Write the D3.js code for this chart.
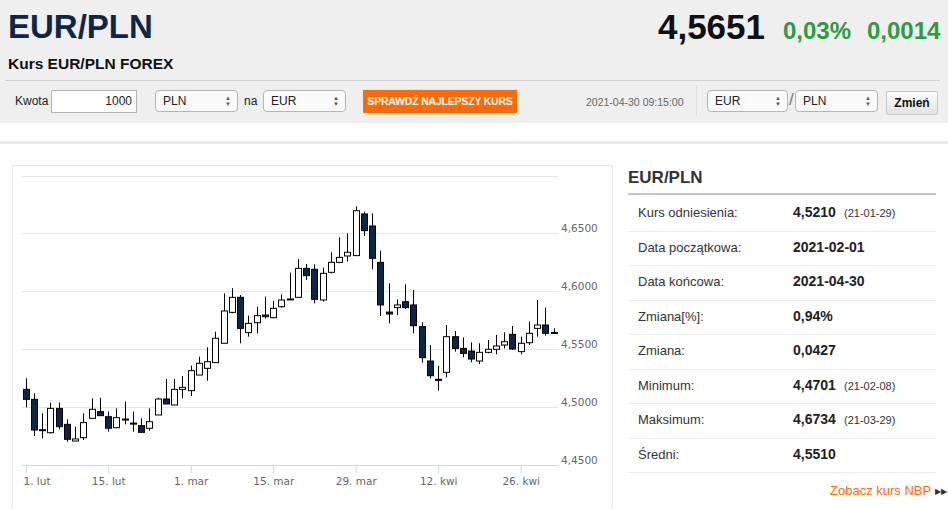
<!DOCTYPE html>
<html>
<head>
<meta charset="utf-8">
<script src="https://cdn.jsdelivr.net/npm/d3@7"></script>
<style>
  body { margin: 0; width: 948px; height: 509px; overflow: hidden; background: #fff; font-family: "Liberation Sans", Arial, sans-serif; position: relative; }
  .abs { position: absolute; white-space: nowrap; }
  .head { position: absolute; left: 0; top: 0; width: 948px; height: 123px; background: #efefef; }
  .sel { position: absolute; height: 20px; border: 1px solid #b5b5b5; border-radius: 4px; background: #fafafa; font-size: 12px; line-height: 20px; padding-left: 7px; box-sizing: content-box; color: #222; }
  .sel .arr { position: absolute; right: 6px; top: 4px; font-size: 6px; line-height: 6px; color: #555; }
  #chart { position: absolute; left: 0; top: 0; }
  .row-l { position: absolute; left: 638px; font-size: 13px; color: #333; }
  .row-v { position: absolute; left: 793px; font-size: 14px; font-weight: bold; color: #222; }
  .row-d { position: absolute; left: 844px; font-size: 11px; color: #333; }
  .row-line { position: absolute; left: 628px; width: 308px; height: 1px; background: #ececec; }
</style>
</head>
<body>
<div class="head"></div>
<div class="abs" style="left:8px;top:8px;font-size:33px;font-weight:bold;color:#0f2747;">EUR/PLN</div>
<div class="abs" style="left:8px;top:55px;font-size:15.5px;font-weight:bold;color:#111;">Kurs EUR/PLN FOREX</div>
<div class="abs" style="right:183px;top:7px;font-size:35px;font-weight:bold;color:#111;">4,5651</div>
<div class="abs" style="left:783px;top:17px;font-size:24px;font-weight:bold;color:#2a9d3c;">0,03%</div>
<div class="abs" style="left:867px;top:17px;font-size:24px;font-weight:bold;color:#2a9d3c;">0,0014</div>
<div class="abs" style="left:5px;top:80px;width:935px;height:1px;background:#cfcfcf;"></div>

<div class="abs" style="left:15px;top:94px;font-size:12px;color:#222;">Kwota</div>
<div class="abs" style="left:51px;top:90px;width:80px;height:21px;border:1px solid #b5b5b5;background:#fff;font-size:12px;line-height:21px;text-align:right;padding-right:4px;color:#222;">1000</div>
<div class="sel" style="left:155px;top:90px;width:74px;">PLN<span class="arr">▲<br>▼</span></div>
<div class="abs" style="left:244px;top:94px;font-size:12px;color:#222;">na</div>
<div class="sel" style="left:263px;top:90px;width:74px;">EUR<span class="arr">▲<br>▼</span></div>
<div class="abs" style="left:363px;top:90px;width:154px;height:23px;background:#ff6a00;color:#fff;font-size:10.5px;font-weight:bold;line-height:23px;text-align:center;letter-spacing:-0.2px;">SPRAWDŹ NAJLEPSZY KURS</div>
<div class="abs" style="left:586px;top:96px;font-size:10.5px;color:#666;">2021-04-30 09:15:00</div>
<div class="abs" style="left:696px;top:86px;width:1px;height:30px;background:#dcdcdc;"></div>
<div class="sel" style="left:707px;top:90px;width:72px;">EUR<span class="arr">▲<br>▼</span></div>
<div class="abs" style="left:789px;top:90px;font-size:17px;color:#777;">/</div>
<div class="sel" style="left:795px;top:90px;width:74px;">PLN<span class="arr">▲<br>▼</span></div>
<div class="abs" style="left:886px;top:91px;width:50px;height:22px;border:1px solid #c8c8c8;border-radius:2px;background:linear-gradient(#fdfdfd,#e2e2e2);font-size:12px;font-weight:bold;line-height:22px;text-align:center;color:#111;">Zmień</div>

<div class="abs" style="left:0;top:141px;width:948px;height:3px;background:#e9e9e9;"></div>
<div class="abs" style="left:12px;top:165px;width:599px;height:360px;border:1px solid #e6e6e6;"></div>

<svg id="chart" width="948" height="509"></svg>

<div class="abs" style="left:628px;top:168px;font-size:17px;font-weight:bold;color:#333;">EUR/PLN</div>
<div class="abs" style="left:628px;top:193px;width:308px;height:2px;background:#c4c4c4;"></div>
<div id="table"></div>
<div class="abs" style="left:830px;top:483px;font-size:13px;color:#ff6a00;">Zobacz kurs NBP <span style="color:#333;font-size:8px;vertical-align:1px;">▶▶</span></div>

<script>
// trading days 2021-02-01 .. 2021-04-30 (forex, weekdays only)
const dates = [
  '02-01','02-02','02-03','02-04','02-05','02-08','02-09','02-10','02-11','02-12',
  '02-15','02-16','02-17','02-18','02-19','02-22','02-23','02-24','02-25','02-26',
  '03-01','03-02','03-03','03-04','03-05','03-08','03-09','03-10','03-11','03-12',
  '03-15','03-16','03-17','03-18','03-19','03-22','03-23','03-24','03-25','03-26',
  '03-29','03-30','03-31','04-01','04-02','04-05','04-06','04-07','04-08','04-09',
  '04-12','04-13','04-14','04-15','04-16','04-19','04-20','04-21','04-22','04-23',
  '04-26','04-27','04-28','04-29','04-30'
];
const open = [
  4.5153,4.5067,4.4802,4.4779,4.4989,4.4851,4.4707,4.4736,4.4903,4.4961,
  4.4917,4.4822,4.4897,4.4862,4.4840,4.4817,4.4932,4.5070,4.5018,4.5153,
  4.5142,4.5277,4.5335,4.5384,4.5551,4.5818,4.5948,4.5643,4.5729,4.5795,
  4.5772,4.5867,4.5928,4.5948,4.6198,4.6190,4.5925,4.6164,4.6250,4.6305,
  4.6308,4.6668,4.6564,4.6250,4.5821,4.5859,4.5910,4.5882,4.5695,4.5398,
  4.5240,4.5300,4.5608,4.5507,4.5484,4.5398,4.5473,4.5499,4.5536,4.5628,
  4.5479,4.5556,4.5680,4.5709,4.5645
];
const high = [
  4.5248,4.5119,4.4946,4.5038,4.5038,4.4894,4.4831,4.4946,4.5076,4.5081,
  4.4961,4.4989,4.5047,4.4961,4.4903,4.4989,4.5081,4.5243,4.5243,4.5269,
  4.5358,4.5436,4.5516,4.5651,4.5982,4.6026,4.5968,4.5790,4.5867,4.5954,
  4.5916,4.5974,4.6161,4.6279,4.6236,4.6233,4.6204,4.6337,4.6466,4.6501,
  4.6734,4.6688,4.6673,4.6351,4.6069,4.5931,4.6060,4.6011,4.5732,4.5536,
  4.5358,4.5709,4.5657,4.5602,4.5559,4.5551,4.5579,4.5623,4.5646,4.5700,
  4.5608,4.5738,4.5925,4.5859,4.5680
];
const low = [
  4.4998,4.4750,4.4730,4.4773,4.4808,4.4701,4.4705,4.4716,4.4903,4.4923,
  4.4788,4.4817,4.4851,4.4788,4.4782,4.4796,4.4932,4.5027,4.5018,4.5076,
  4.5096,4.5277,4.5228,4.5384,4.5551,4.5810,4.5551,4.5608,4.5637,4.5767,
  4.5767,4.5859,4.5925,4.5945,4.6098,4.5896,4.5911,4.6155,4.6242,4.6256,
  4.6308,4.6478,4.6190,4.5787,4.5723,4.5795,4.5847,4.5637,4.5384,4.5248,
  4.5142,4.5257,4.5479,4.5430,4.5387,4.5372,4.5464,4.5456,4.5507,4.5493,
  4.5456,4.5536,4.5608,4.5617,4.5637
];
const close = [
  4.5067,4.4802,4.4805,4.4989,4.4831,4.4722,4.4725,4.4866,4.4981,4.4926,
  4.4817,4.4909,4.4891,4.4858,4.4782,4.4874,4.5070,4.5027,4.5153,4.5171,
  4.5315,4.5378,4.5392,4.5594,4.5830,4.5948,4.5680,4.5723,4.5790,4.5781,
  4.5853,4.5925,4.5934,4.6198,4.6135,4.5931,4.6155,4.6250,4.6293,4.6337,
  4.6696,4.6524,4.6285,4.5882,4.5804,4.5882,4.5859,4.5703,4.5427,4.5271,
  4.5231,4.5608,4.5507,4.5464,4.5415,4.5473,4.5499,4.5528,4.5565,4.5502,
  4.5551,4.5637,4.5709,4.5637,4.5637
];
const xTickIdx = [0, 10, 20, 30, 40, 50, 60];
const xTickLabels = ['1. lut', '15. lut', '1. mar', '15. mar', '29. mar', '12. kwi', '26. kwi'];
const yGrid = [4.50, 4.55, 4.60, 4.65, 4.70];
const yLabels = [4.45, 4.50, 4.55, 4.60, 4.65];

const statLabels = ['Kurs odniesienia:', 'Data początkowa:', 'Data końcowa:', 'Zmiana[%]:', 'Zmiana:', 'Minimum:', 'Maksimum:', 'Średni:'];
const statValues = ['4,5210', '2021-02-01', '2021-04-30', '0,94%', '0,0427', '4,4701', '4,6734', '4,5510'];
const statDates = ['(21-01-29)', '', '', '', '', '(21-02-08)', '(21-03-29)', ''];

const plot = { left: 22, right: 559, top: 175, bottom: 465 };
const svg = d3.select('#chart');
const x = d3.scaleLinear().domain([0, dates.length - 1]).range([25.7, 553.7]);
const y = d3.scaleLinear().domain([4.45, 4.70]).range([plot.bottom, 175.5]);
const fmt = v => d3.format('.4f')(v).replace('.', ',');

// grid
svg.append('g').selectAll('line').data(yGrid).join('line')
  .attr('x1', plot.left).attr('x2', plot.right)
  .attr('y1', d => Math.round(y(d)) + 0.5).attr('y2', d => Math.round(y(d)) + 0.5)
  .attr('stroke', '#e6e6e6').attr('stroke-width', 1);

// y labels (right side)
const ya = svg.append('g').attr('transform', `translate(${plot.right},0)`)
  .call(d3.axisRight(y).tickValues(yLabels).tickSize(0).tickPadding(2).tickFormat(fmt));
ya.select('.domain').remove();
ya.selectAll('text').attr('y', -2).attr('dy', 0)
  .attr('fill', '#666').style('font-family', '"DejaVu Sans", Verdana, sans-serif').style('font-size', '10.5px');

// x axis
const xa = svg.append('g').attr('transform', `translate(0,${plot.bottom + 0.5})`)
  .call(d3.axisBottom(x).tickValues(xTickIdx).tickSize(8).tickPadding(4)
    .tickFormat((d, i) => xTickLabels[i]));
xa.select('.domain').attr('d', `M${plot.left},0H${plot.right}`).attr('stroke', '#ccd6eb');
xa.selectAll('.tick line').attr('stroke', '#ccd6eb');
xa.selectAll('text').attr('fill', '#666')
  .style('font-family', '"DejaVu Sans", Verdana, sans-serif').style('font-size', '10.5px');
xa.selectAll('.tick').filter(d => d === 0).select('text')
  .attr('text-anchor', 'start').attr('x', plot.left + 1 - x(0));

// candles
const idx = d3.range(dates.length);
const bw = 6;
const g = svg.append('g');
g.selectAll('line').data(idx).join('line')
  .attr('x1', i => Math.round(x(i)) + 0.5).attr('x2', i => Math.round(x(i)) + 0.5)
  .attr('y1', i => y(high[i])).attr('y2', i => y(low[i]))
  .attr('stroke', '#000').attr('stroke-width', 1);
g.selectAll('rect').data(idx).join('rect')
  .attr('x', i => Math.round(x(i)) + 0.5 - bw / 2)
  .attr('width', bw)
  .attr('y', i => y(Math.max(open[i], close[i])))
  .attr('height', i => Math.max(1, Math.abs(y(open[i]) - y(close[i]))))
  .attr('fill', i => close[i] >= open[i] ? '#ffffff' : '#0c2548')
  .attr('stroke', '#000').attr('stroke-width', 1);

// stats table
const rowTop = 195;
const rowH = 34.5;
const tbl = d3.select('#table');
statLabels.forEach((lab, i) => {
  const mid = rowTop + rowH * i + 18;
  tbl.append('div').attr('class', 'row-l').style('top', (mid - 8) + 'px').text(lab);
  tbl.append('div').attr('class', 'row-v').style('top', (mid - 9) + 'px').text(statValues[i]);
  if (statDates[i]) tbl.append('div').attr('class', 'row-d').style('top', (mid - 6) + 'px').text(statDates[i]);
  tbl.append('div').attr('class', 'row-line').style('top', Math.round(rowTop + rowH * (i + 1) + 1) + 'px');
});
</script>
</body>
</html>
